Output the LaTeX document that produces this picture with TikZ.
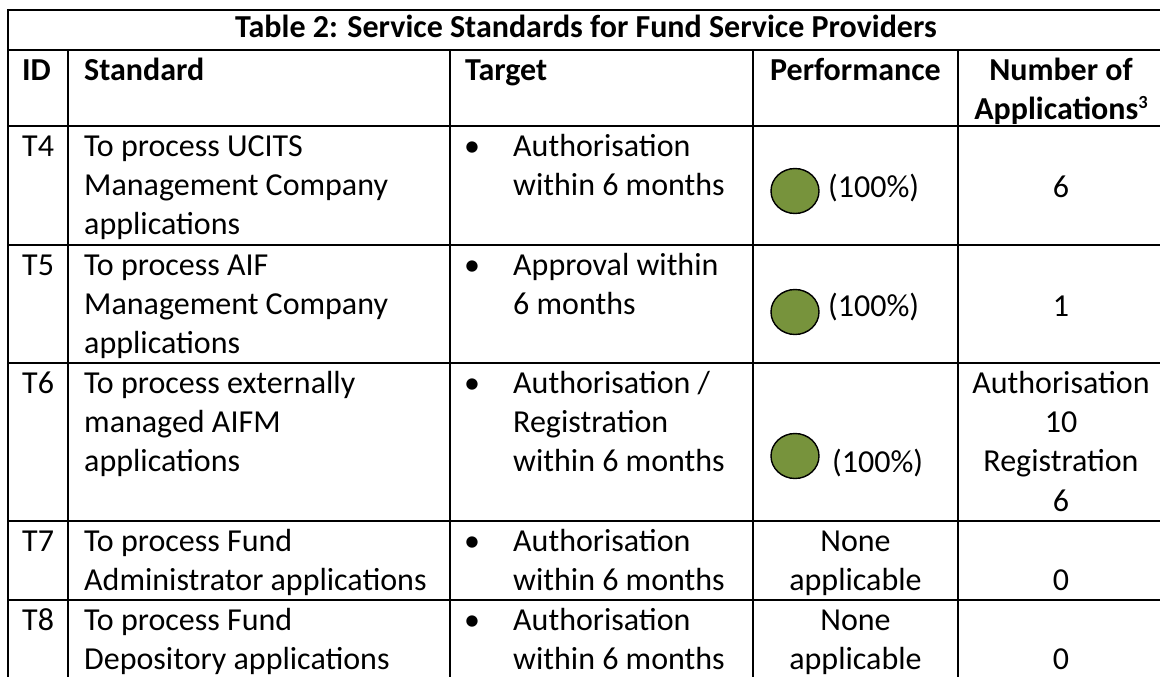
\documentclass[tikz,border=0pt]{standalone}
\usepackage{fontspec}
\setmainfont{Carlito}
\usetikzlibrary{shapes.geometric}
\definecolor{okgreen}{HTML}{77933C}
\newcommand{\tabfont}{\fontsize{32}{39.3}\selectfont}
\newcommand{\cellstrut}{\rule{0pt}{30pt}}
\newcommand{\notemark}[1]{\raisebox{11pt}{\fontsize{18.5}{18.5}\selectfont #1}}

\begin{document}
\begin{tikzpicture}[x=1pt, y={(0pt,-1pt)},
	cell/.style={anchor=north west, inner sep=0pt, align=left, font=\tabfont},
	midcell/.style={anchor=north, inner sep=0pt, align=center, font=\tabfont},
	headcell/.style={cell, font={\tabfont\bfseries}},
	basecell/.style={anchor=base, inner sep=0pt, font=\tabfont},
	okdot/.style={ellipse, draw=black, line width=1.4pt, fill=okgreen, minimum width=48pt, minimum height=45pt, inner sep=0pt}]
			%%%%% START %%%%%
			
			\useasboundingbox[fill=white] (0, 0) rectangle (1160, 677);
			
			\draw[line width=2pt] (7.5, 10) -- (1160, 10);
			\draw[line width=2pt] (7.5, 50) -- (1160, 50);
			\draw[line width=2pt] (7.5, 126) -- (1160, 126);
			\draw[line width=2pt] (7.5, 245) -- (1160, 245);
			\draw[line width=2pt] (7.5, 363) -- (1160, 363);
			\draw[line width=2pt] (7.5, 521) -- (1160, 521);
			\draw[line width=2pt] (7.5, 600) -- (1160, 600);
			
			\draw[line width=2pt] (7.5, 9) -- (7.5, 677);
			\draw[line width=2pt] (68, 50) -- (68, 677);
			\draw[line width=2pt] (450, 50) -- (450, 677);
			\draw[line width=2pt] (753, 50) -- (753, 677);
			\draw[line width=2pt] (958, 50) -- (958, 677);
			
			\node[basecell, font={\tabfont\bfseries}] (title) at (586, 38) {Table 2: Service Standards for Fund Service Providers};
			
			\node[headcell] (hid) at (22, 50) {\cellstrut ID};
			\node[headcell] (hstd) at (84, 50) {\cellstrut Standard};
			\node[headcell] (htgt) at (465, 50) {\cellstrut Target};
			\node[midcell, font={\tabfont\bfseries}] (hperf) at (855.5, 50) {\cellstrut Performance};
			\node[midcell, font={\tabfont\bfseries}] (hnum) at (1061, 50) {\cellstrut Number of\\Applications\notemark{3}};
			
			%% T4
			\node[cell] (id4) at (22, 126) {\cellstrut T4};
			\node[cell] (std4) at (84, 126) {\cellstrut To process UCITS\\Management Company\\applications};
			\node[basecell] (b4) at (472, 156) {•};
			\node[cell] (tgt4) at (513, 126) {\cellstrut Authorisation\\within 6 months};
			\node[okdot] (dot4) at (795, 191) {};
			\node[basecell, anchor=base west] (pc4) at (828, 197) {(100\%)};
			\node[basecell] (n4) at (1061, 197) {6};
			
			%% T5
			\node[cell] (id5) at (22, 245) {\cellstrut T5};
			\node[cell] (std5) at (84, 245) {\cellstrut To process AIF\\Management Company\\applications};
			\node[basecell] (b5) at (472, 275) {•};
			\node[cell] (tgt5) at (513, 245) {\cellstrut Approval within\\6 months};
			\node[okdot] (dot5) at (795, 312) {};
			\node[basecell, anchor=base west] (pc5) at (828, 316) {(100\%)};
			\node[basecell] (n5) at (1061, 316) {1};
			
			%% T6
			\node[cell] (id6) at (22, 363) {\cellstrut T6};
			\node[cell] (std6) at (84, 363) {\cellstrut To process externally\\managed AIFM\\applications};
			\node[basecell] (b6) at (472, 393) {•};
			\node[cell] (tgt6) at (513, 363) {\cellstrut Authorisation /\\Registration\\within 6 months};
			\node[okdot] (dot6) at (795, 456) {};
			\node[basecell, anchor=base west] (pc6) at (832, 472) {(100\%)};
			\node[midcell] (n6) at (1061, 363) {\cellstrut Authorisation\\10\\Registration\\6};
			
			%% T7
			\node[cell] (id7) at (22, 521) {\cellstrut T7};
			\node[cell] (std7) at (84, 521) {\cellstrut To process Fund\\Administrator applications};
			\node[basecell] (b7) at (472, 551) {•};
			\node[cell] (tgt7) at (513, 521) {\cellstrut Authorisation\\within 6 months};
			\node[midcell] (pf7) at (855.5, 521) {\cellstrut None\\applicable};
			\node[basecell] (n7) at (1061, 590) {0};
			
			%% T8
			\node[cell] (id8) at (22, 600) {\cellstrut T8};
			\node[cell] (std8) at (84, 600) {\cellstrut To process Fund\\Depository applications};
			\node[basecell] (b8) at (472, 630) {•};
			\node[cell] (tgt8) at (513, 600) {\cellstrut Authorisation\\within 6 months};
			\node[midcell] (pf8) at (855.5, 600) {\cellstrut None\\applicable};
			\node[basecell] (n8) at (1061, 669) {0};
			
			%%%%% END %%%%%
\end{tikzpicture}
\end{document}
